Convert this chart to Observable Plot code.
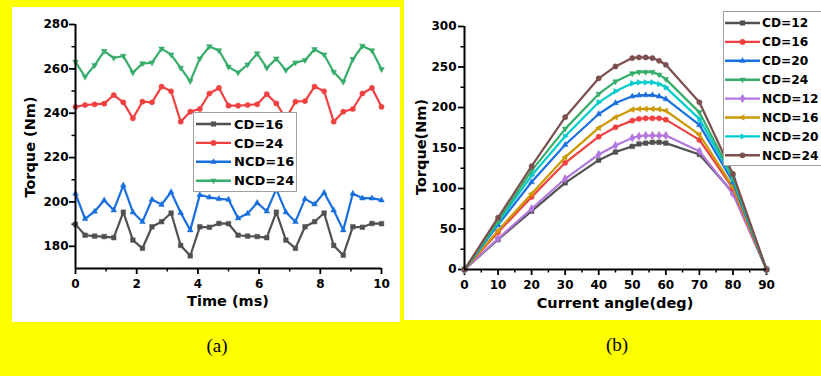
<!DOCTYPE html>
<html>
<head>
<meta charset="utf-8">
<script src="https://cdn.jsdelivr.net/npm/d3@7"></script>
<script src="https://cdn.jsdelivr.net/npm/@observablehq/plot@0.6"></script>
<style>
  html, body { margin: 0; padding: 0; }
  body { width: 821px; height: 376px; background: #ffff00; position: relative; overflow: hidden; font-family: "DejaVu Sans", sans-serif; }
  .panel { position: absolute; background: #ffffff; overflow: visible; }
  .lbl { position: absolute; font-family: "DejaVu Sans", sans-serif; font-weight: bold; font-size: 14.5px; color: #000; white-space: nowrap; transform: translate(-50%, -50%); }
  .rot { transform: translate(-50%, -50%) rotate(-90deg); }
  .cap { position: absolute; font-family: "Liberation Serif", "Times New Roman", serif; font-size: 19px; color: #000; transform: translate(-50%, -50%); }
  .legend { position: absolute; background: #fff; border: 1px solid #a0a0a0; }
</style>
</head>
<body>
<div id="pa" class="panel" style="left:12px; top:7px; width:388px; height:315px;"></div>
<div id="pb" class="panel" style="left:404px; top:0px; width:417px; height:320px;"></div>
<div class="lbl" style="left:228px; top:301px;">Time (ms)</div>
<div class="lbl rot" style="left:30px; top:147px;">Torque (Nm)</div>
<div class="lbl" style="left:615px; top:303px;">Current angle(deg)</div>
<div class="lbl rot" style="left:421px; top:147px;">Torque(Nm)</div>
<div class="cap" style="left:217px; top:346px;">(a)</div>
<div class="cap" style="left:617px; top:345px;">(b)</div>
<script>
// ---------- Panel (a) data ----------
const timeMs = [0, 0.3125, 0.625, 0.9375, 1.25, 1.5625, 1.875, 2.1875, 2.5, 2.8125, 3.125, 3.4375, 3.75, 4.0625, 4.375, 4.6875, 5, 5.3125, 5.625, 5.9375, 6.25, 6.5625, 6.875, 7.1875, 7.5, 7.8125, 8.125, 8.4375, 8.75, 9.0625, 9.375, 9.6875, 10];
const torqueCD16 = [189.9, 185, 184.6, 184.4, 183.9, 195.4, 182.8, 179.1, 188.8, 191.1, 195, 180.4, 175.7, 188.8, 188.6, 190.3, 190.2, 185, 184.6, 184.4, 183.9, 195.4, 182.8, 179.1, 188.8, 191.1, 195, 180.4, 176, 188.8, 188.6, 190.3, 190.2];
const torqueCD24 = [242.9, 243.7, 244, 244.3, 248.2, 244.9, 237.7, 245.2, 244.9, 252, 249.9, 236.2, 240.7, 241.9, 248.9, 251.4, 243.4, 243.4, 243.7, 244, 248.6, 244.4, 237.7, 245.2, 245.5, 252, 249.9, 236.2, 240.7, 241.9, 248.9, 251.4, 242.9];
const torqueNCD16 = [203.8, 192.4, 195.7, 200.8, 196.3, 207.5, 195.4, 191.1, 201.1, 198.8, 204.5, 195.1, 187.3, 203.2, 202.1, 201.4, 201.1, 192.7, 194.8, 199.6, 195.8, 205.8, 195.4, 191.1, 201.4, 199, 204.2, 196.3, 187.3, 203.8, 201.7, 201.7, 200.8];
const torqueNCD24 = [263.1, 256.4, 261.6, 268, 264.9, 265.8, 258.3, 262.4, 262.8, 269.1, 266.4, 260.4, 254.4, 264.6, 270.1, 268.3, 260.9, 258.3, 261.9, 266.9, 260.4, 264.6, 259.4, 262.8, 263.9, 268.8, 266.4, 258.6, 254.1, 264.3, 270.3, 268.3, 259.8];
const namesA = ["CD=16", "CD=24", "NCD=16", "NCD=24"];
const xTicksA = [0, 2, 4, 6, 8, 10];
const xMinorA = [1, 3, 5, 7, 9];
const yTicksA = [180, 200, 220, 240, 260, 280];
const yMinorA = [190, 210, 230, 250, 270];

// ---------- Panel (b) data ----------
const angleDeg = [0, 10, 20, 30, 40, 45, 50, 52, 54, 56, 58, 60, 70, 80, 90];
const torqueB_CD12 = [0, 37, 72, 107, 135, 145, 152, 155, 156, 157, 157, 156, 142, 95, 0];
const torqueB_CD16 = [0, 46, 89.5, 131.7, 164, 175.6, 183.8, 186, 186.7, 186.7, 186.7, 185, 160, 100, 0];
const torqueB_CD20 = [0, 55, 108, 154, 192, 205.6, 213.8, 215, 215.4, 215.4, 213.8, 210.5, 178.5, 108, 0];
const torqueB_CD24 = [0, 60, 122, 173.6, 216.7, 232, 242, 243.7, 243.7, 243.7, 240.5, 235, 194, 114, 0];
const torqueB_NCD12 = [0, 38, 75, 112, 142, 153, 162.5, 164.5, 165.4, 165.4, 165.4, 165.4, 146, 93.5, 0];
const torqueB_NCD16 = [0, 48, 93.6, 138.7, 174.8, 188, 197.4, 198.2, 198.2, 198.2, 197.8, 196, 166.6, 102, 0];
const torqueB_NCD20 = [0, 58, 116, 164.5, 206.4, 220, 229.8, 231, 231, 231, 229, 224.9, 186, 112, 0];
const torqueB_NCD24 = [0, 64, 127.6, 188, 236, 250.7, 261, 261.8, 261.8, 261, 257.7, 252.8, 206.4, 118, 0];
const namesB = ["CD=12", "CD=16", "CD=20", "CD=24", "NCD=12", "NCD=16", "NCD=20", "NCD=24"];
const xTicksB = [0, 10, 20, 30, 40, 50, 60, 70, 80, 90];
const xMinorB = [5, 15, 25, 35, 45, 55, 65, 75, 85];
const yTicksB = [0, 50, 100, 150, 200, 250, 300];
const yMinorB = [25, 75, 125, 175, 225, 275];

// ---------- styling ----------
const originColors = ["#515151", "#F14040", "#1A6FDF", "#37AD6B", "#B177DE", "#CC9900", "#00CBCC", "#7D4E4E"];
function triSym(dir) {
  return {
    draw(ctx, size) {
      const s = Math.sqrt(size) * 0.62;
      const pts = [[0, -1.15 * s], [s, 0.62 * s], [-s, 0.62 * s]];
      const rot = ([x, y]) => dir === "down" ? [x, -y] : dir === "left" ? [y, x] : dir === "right" ? [-y, x] : [x, y];
      const p = pts.map(rot);
      ctx.moveTo(p[0][0], p[0][1]);
      ctx.lineTo(p[1][0], p[1][1]);
      ctx.lineTo(p[2][0], p[2][1]);
      ctx.closePath();
    }
  };
}
const symbolsA = ["square", "circle", triSym("up"), triSym("down")];
const colorsA = [originColors[0], originColors[1], originColors[2], originColors[3]];
const symbolsB = ["square", "circle", triSym("up"), triSym("down"), "diamond", triSym("left"), triSym("right"), "circle"];
const colorsB = originColors;

const styleObj = {background: "transparent", fontFamily: "DejaVu Sans, sans-serif", fontSize: "12px", fontWeight: "bold", color: "#000", overflow: "visible"};

function seriesMarks(xs, ys, color, symbol) {
  const data = xs.map((x, i) => ({x, y: ys[i]}));
  return [
    Plot.line(data, {x: "x", y: "y", stroke: color, strokeWidth: 2.2}),
    Plot.dot(data, {x: "x", y: "y", fill: color, stroke: color, strokeWidth: 0.5, symbol, r: 2.6})
  ];
}

// ---------- Panel (a) ----------
const seriesA = [torqueCD16, torqueCD24, torqueNCD16, torqueNCD24];
const plotA = Plot.plot({
  width: 388, height: 315,
  marginLeft: 63, marginRight: 19, marginTop: 17, marginBottom: 54,
  style: styleObj,
  x: {domain: [0, 10]},
  y: {domain: [170, 280]},
  marks: [
    Plot.axisX(xTicksA, {tickSize: 6, tickPadding: 5, strokeWidth: 1.8, label: null, fill: "#000"}),
    Plot.axisX(xMinorA, {tickSize: 3.5, tickFormat: () => "", strokeWidth: 1.5, label: null}),
    Plot.axisY(yTicksA, {tickSize: 6, tickPadding: 1, strokeWidth: 1.8, label: null, fill: "#000"}),
    Plot.axisY(yMinorA, {tickSize: 3.5, tickFormat: () => "", strokeWidth: 1.5, label: null}),
    ...seriesA.flatMap((ys, i) => seriesMarks(timeMs, ys, colorsA[i], symbolsA[i])),
    Plot.ruleX([0], {stroke: "#000", strokeWidth: 2}),
    Plot.ruleY([170], {stroke: "#000", strokeWidth: 2})
  ]
});
document.getElementById("pa").appendChild(plotA);

// ---------- Panel (b) ----------
const seriesB = [torqueB_CD12, torqueB_CD16, torqueB_CD20, torqueB_CD24, torqueB_NCD12, torqueB_NCD16, torqueB_NCD20, torqueB_NCD24];
const drawOrder = [0, 4, 1, 5, 2, 6, 3, 7];
const plotB = Plot.plot({
  width: 417, height: 320,
  marginLeft: 60, marginRight: 55, marginTop: 26, marginBottom: 51,
  style: styleObj,
  x: {domain: [0, 90]},
  y: {domain: [0, 300]},
  marks: [
    Plot.axisX(xTicksB, {tickSize: 6, tickPadding: 5, strokeWidth: 1.8, label: null, fill: "#000"}),
    Plot.axisX(xMinorB, {tickSize: 3.5, tickFormat: () => "", strokeWidth: 1.5, label: null}),
    Plot.axisY(yTicksB, {tickSize: 6, tickPadding: 2, strokeWidth: 1.8, label: null, fill: "#000"}),
    Plot.axisY(yMinorB, {tickSize: 3.5, tickFormat: () => "", strokeWidth: 1.5, label: null}),
    ...drawOrder.flatMap(i => seriesMarks(angleDeg, seriesB[i], colorsB[i], symbolsB[i])),
    Plot.ruleX([0], {stroke: "#000", strokeWidth: 2}),
    Plot.ruleY([0], {stroke: "#000", strokeWidth: 2})
  ]
});
document.getElementById("pb").appendChild(plotB);

// ---------- legends ----------
function makeLegend(left, top, width, height, names, colors, symbols, rowY0, rowDy, lineX0, lineX1, textX, fontSize) {
  const div = document.createElement("div");
  div.className = "legend";
  Object.assign(div.style, {left: left + "px", top: top + "px", width: width + "px", height: height + "px"});
  const svg = d3.select(div).append("svg").attr("width", width).attr("height", height).style("overflow", "visible");
  names.forEach((name, i) => {
    const y = rowY0 + i * rowDy;
    svg.append("line").attr("x1", lineX0).attr("x2", lineX1).attr("y1", y).attr("y2", y)
      .attr("stroke", colors[i]).attr("stroke-width", 2.4);
    const symType = typeof symbols[i] === "string"
      ? {square: d3.symbolSquare, circle: d3.symbolCircle, diamond: d3.symbolDiamond}[symbols[i]]
      : symbols[i];
    svg.append("path").attr("d", d3.symbol(symType, 26)())
      .attr("transform", `translate(${(lineX0 + lineX1) / 2},${y})`).attr("fill", colors[i]);
    svg.append("text").attr("x", textX).attr("y", y).attr("dy", "0.36em")
      .attr("font-family", "DejaVu Sans, sans-serif").attr("font-weight", "bold").attr("font-size", fontSize)
      .attr("fill", "#000").text(name);
  });
  document.body.appendChild(div);
}
makeLegend(193, 112, 102, 78, namesA, colorsA, symbolsA, 11, 18.9, 2, 37, 40, "13px");
makeLegend(723, 11, 110, 153, namesB, colorsB, symbolsB, 11, 18.9, 1, 36, 38, "12.2px");
</script>
</body>
</html>
